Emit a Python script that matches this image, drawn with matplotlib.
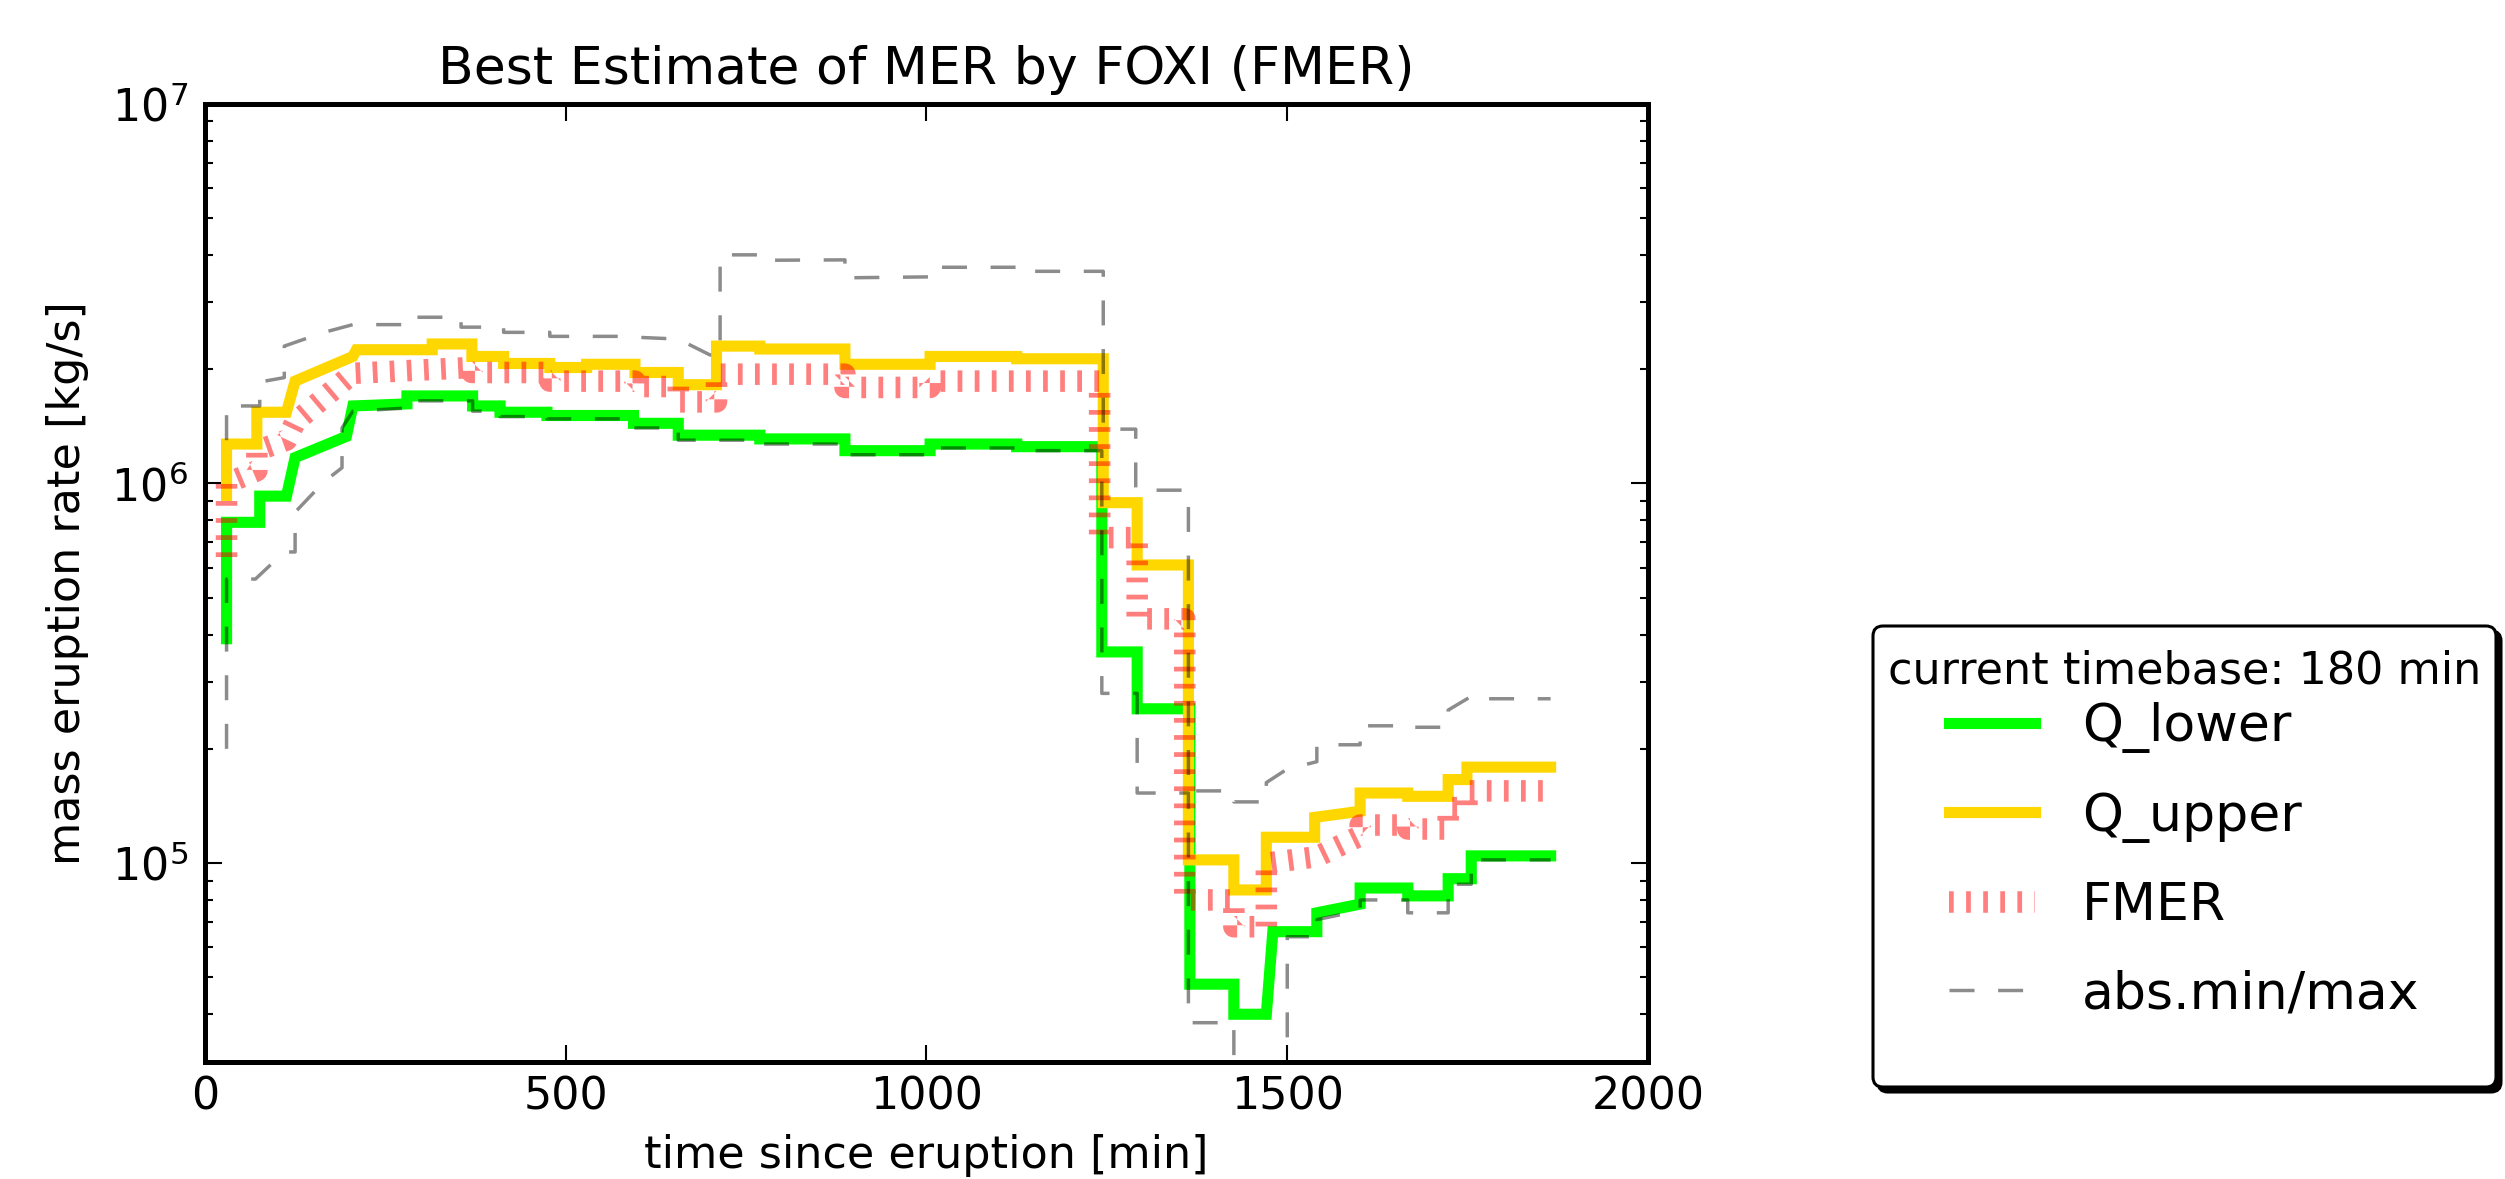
import matplotlib
matplotlib.use('Agg')
import matplotlib.pyplot as plt
from matplotlib.patches import FancyBboxPatch
import numpy as np

# ---------------- data ----------------
# time since eruption [min] and mass eruption rate [kg/s]
t_lower = [30, 30, 76, 76, 113, 125, 196, 205, 280, 280, 371, 371, 409, 409, 474, 474,
           594, 594, 656, 656, 769, 769, 887, 887, 1005, 1005, 1125, 1125, 1243, 1243,
           1292, 1292, 1365, 1365, 1426, 1426, 1471, 1480, 1541, 1541, 1601, 1601,
           1667, 1667, 1723, 1723, 1755, 1755, 1865]
q_lower = [3.9e5, 7.9e5, 7.9e5, 9.26e5, 9.26e5, 1.17e6, 1.33e6, 1.6e6, 1.62e6, 1.70e6,
           1.70e6, 1.60e6, 1.60e6, 1.54e6, 1.54e6, 1.51e6, 1.51e6, 1.44e6, 1.44e6, 1.34e6,
           1.34e6, 1.31e6, 1.31e6, 1.22e6, 1.22e6, 1.27e6, 1.27e6, 1.25e6, 1.25e6, 3.6e5,
           3.6e5, 2.55e5, 2.55e5, 4.8e4, 4.8e4, 4.0e4, 4.0e4, 6.6e4, 6.6e4, 7.4e4, 7.8e4, 8.6e4,
           8.6e4, 8.2e4, 8.2e4, 9.1e4, 9.1e4, 1.045e5, 1.045e5]

t_upper = [30, 30, 72, 72, 113, 125, 205, 210, 315, 315, 370, 370, 414, 414, 478, 478,
           529, 529, 596, 596, 656, 656, 709, 709, 769, 769, 887, 887, 1005, 1005, 1125,
           1125, 1245, 1245, 1292, 1292, 1363, 1363, 1426, 1426, 1471, 1471, 1538, 1538,
           1601, 1601, 1667, 1667, 1723, 1723, 1749, 1749, 1865]
q_upper = [9.3e5, 1.27e6, 1.27e6, 1.54e6, 1.54e6, 1.86e6, 2.16e6, 2.25e6, 2.25e6, 2.33e6,
           2.33e6, 2.16e6, 2.16e6, 2.07e6, 2.07e6, 2.02e6, 2.02e6, 2.06e6, 2.06e6, 1.96e6,
           1.96e6, 1.82e6, 1.82e6, 2.30e6, 2.30e6, 2.26e6, 2.26e6, 2.06e6, 2.06e6, 2.16e6,
           2.16e6, 2.13e6, 2.13e6, 8.9e5, 8.9e5, 6.1e5, 6.1e5, 1.02e5, 1.02e5, 8.5e4, 8.5e4,
           1.17e5, 1.17e5, 1.32e5, 1.37e5, 1.53e5, 1.53e5, 1.50e5, 1.50e5, 1.66e5, 1.66e5,
           1.79e5, 1.79e5]

t_fmer = [30, 30, 72, 72, 113, 125, 205, 370, 370, 478, 478, 596, 596, 656, 656, 709, 709,
          887, 887, 1005, 1005, 1240, 1240, 1292, 1292, 1358, 1358, 1426, 1426, 1471, 1471,
          1541, 1601, 1601, 1667, 1667, 1723, 1723, 1749, 1749, 1865]
fmer = [6.4e5, 1.0e6, 1.08e6, 1.22e6, 1.3e6, 1.45e6, 1.95e6, 2.02e6, 1.96e6, 1.96e6,
        1.86e6, 1.86e6, 1.80e6, 1.80e6, 1.64e6, 1.64e6, 1.94e6, 1.94e6, 1.79e6, 1.79e6,
        1.86e6, 1.86e6, 7.2e5, 7.2e5, 4.4e5, 4.4e5, 8.0e4, 8.0e4, 6.8e4, 6.8e4, 1.0e5,
        1.04e5, 1.18e5, 1.26e5, 1.26e5, 1.23e5, 1.23e5, 1.4e5, 1.4e5, 1.55e5, 1.55e5]

t_absmax = [30, 30, 76, 76, 110, 110, 165, 205, 280, 280, 355, 355, 414, 414, 478, 478,
            570, 656, 700, 714, 714, 769, 769, 887, 887, 1005, 1005, 1125, 1125, 1245,
            1245, 1290, 1290, 1363, 1363, 1426, 1426, 1471, 1471, 1500, 1541, 1541, 1601,
            1601, 1667, 1667, 1723, 1723, 1755, 1755, 1865]
absmax = [1.3e6, 1.6e6, 1.6e6, 1.85e6, 1.9e6, 2.3e6, 2.5e6, 2.62e6, 2.62e6, 2.74e6,
          2.74e6, 2.58e6, 2.58e6, 2.50e6, 2.50e6, 2.44e6, 2.44e6, 2.40e6, 2.18e6, 2.18e6,
          4.0e6, 4.0e6, 3.87e6, 3.88e6, 3.48e6, 3.5e6, 3.71e6, 3.71e6, 3.62e6, 3.62e6,
          1.39e6, 1.39e6, 9.6e5, 9.6e5, 1.55e5, 1.55e5, 1.45e5, 1.45e5, 1.63e5, 1.77e5,
          1.85e5, 2.05e5, 2.05e5, 2.30e5, 2.30e5, 2.28e5, 2.28e5, 2.53e5, 2.75e5, 2.71e5,
          2.71e5]

t_absmin = [30, 30, 70, 110, 125, 125, 165, 190, 190, 205, 280, 280, 371, 371, 409, 409,
            474, 474, 594, 594, 656, 656, 769, 769, 887, 887, 1005, 1005, 1125, 1125, 1243,
            1243, 1292, 1292, 1363, 1363, 1426, 1426, 1500, 1500, 1541, 1541, 1601, 1601,
            1667, 1667, 1723, 1723, 1755, 1755, 1865]
absmin = [2.0e5, 5.6e5, 5.6e5, 6.6e5, 6.6e5, 8.4e5, 1.01e6, 1.1e6, 1.4e6, 1.55e6, 1.58e6,
          1.65e6, 1.65e6, 1.55e6, 1.55e6, 1.50e6, 1.50e6, 1.48e6, 1.48e6, 1.40e6, 1.40e6,
          1.30e6, 1.30e6, 1.27e6, 1.27e6, 1.19e6, 1.19e6, 1.24e6, 1.24e6, 1.22e6, 1.22e6,
          2.8e5, 2.8e5, 1.53e5, 1.53e5, 3.8e4, 3.8e4, 2.0e4, 2.0e4, 6.4e4, 6.4e4, 7.1e4, 7.5e4,
          8.0e4, 8.0e4, 7.4e4, 7.4e4, 8.8e4, 8.8e4, 1.02e5, 1.02e5]

x_ticks = [0, 500, 1000, 1500, 2000]
timebase = 180

#######################plot
W, H = 2505, 1179
fig = plt.figure(figsize=(W / 100, H / 100), dpi=100)
ax = fig.add_axes([0.0818, 0.0995, 0.5761, 0.8125])

ax.plot(t_lower, q_lower, color='#00ff00', lw=8, label='Q_lower', solid_joinstyle='miter')
ax.plot(t_upper, q_upper, color='#ffd700', lw=8, label='Q_upper', solid_joinstyle='miter')
ax.plot(t_fmer, fmer, color='red', alpha=0.5, lw=15.5,
        linestyle=(0, (0.22, 0.574)), label='FMER')
ax.plot(t_absmax, absmax, color='k', alpha=0.45, lw=2.5,
        linestyle=(0, (7.2, 6.8)), label='abs.min/max')
ax.plot(t_absmin, absmin, color='k', alpha=0.45, lw=2.5,
        linestyle=(0, (7.2, 6.8)))

ax.set_yscale('log')
ax.set_xlim(0, 2000)
ax.set_ylim(3e4, 1e7)
ax.set_xticks(x_ticks)

ax.tick_params(which='both', direction='in', top=True, right=True, width=1.5)
ax.tick_params(which='major', length=12, labelsize=32)
ax.tick_params(axis='x', pad=10)
ax.tick_params(axis='y', pad=12)
ax.tick_params(which='minor', length=6)
for sp in ax.spines.values():
    sp.set_linewidth(3.6)

ax.set_title('Best Estimate of MER by FOXI (FMER)', fontsize=37.5, pad=14)
ax.set_xlabel('time since eruption [min]', fontsize=32, labelpad=11)
ax.set_ylabel('mass eruption rate [kg/s]', fontsize=32, labelpad=16)

############ legend box (drawn by hand so its padding matches) ############
bx0, bx1, by_top, by_bot = 1873, 2496, 626, 1087
bw, bh = (bx1 - bx0) / 100, (by_bot - by_top) / 100
shadow = FancyBboxPatch((bx0 / 100 + 0.05, (H - by_bot) / 100 - 0.05), bw, bh,
                        boxstyle='round,pad=0,rounding_size=0.1',
                        transform=fig.dpi_scale_trans, fc='k', ec='k', lw=2.2)
frame = FancyBboxPatch((bx0 / 100, (H - by_bot) / 100), bw, bh,
                       boxstyle='round,pad=0,rounding_size=0.1',
                       transform=fig.dpi_scale_trans, fc='white', ec='k', lw=2.2)
fig.patches.extend([shadow, frame])

cx = (bx0 + bx1) / 2 / W
fig.text(cx, 1 - 671 / H, 'current timebase: %d min' % timebase,
         ha='center', va='center', fontsize=32)

handles, labels = ax.get_legend_handles_labels()
fig.legend(handles, labels, loc='upper center', bbox_to_anchor=(cx, 1 - 702 / H),
           borderaxespad=0, borderpad=0, frameon=False,
           fontsize=37.5, handlelength=1.65, handletextpad=0.9, labelspacing=0.74)

fig.savefig('out.png', dpi=100)
